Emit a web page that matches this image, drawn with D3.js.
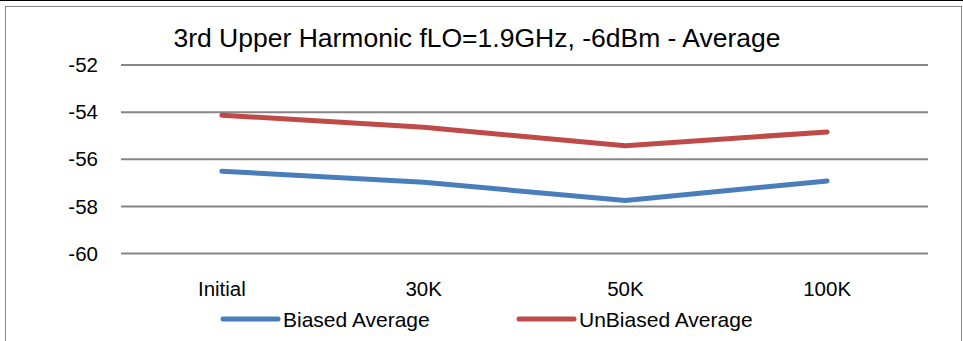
<!DOCTYPE html>
<html><head><meta charset="utf-8">
<script src="https://cdn.jsdelivr.net/npm/d3@7"></script>
<style>body{margin:0;background:#fff}svg{display:block}text{font-family:"Liberation Sans",Arial,sans-serif;fill:#000}</style>
</head><body><svg width="963" height="341"></svg>
<script>
const categories = ["Initial","30K","50K","100K"];
const biased = [-56.53,-57.0,-57.77,-56.94];
const unbiased = [-54.15,-54.66,-55.45,-54.86];
const yTicks = [-52,-54,-56,-58,-60];
const seriesNames = ["Biased Average","UnBiased Average"];
const colors = ["#4a7ebb","#be4b48"];
const title = "3rd Upper Harmonic fLO=1.9GHz, -6dBm - Average";

const svg = d3.select("svg");
svg.append("line").attr("x1",0).attr("x2",963).attr("y1",0.5).attr("y2",0.5).attr("stroke","#000").attr("stroke-width",1);
svg.append("rect").attr("x",5.5).attr("y",6.5).attr("width",956).attr("height",340).attr("fill","none").attr("stroke","#868686").attr("stroke-width",1);

const x = d3.scaleBand().domain(categories).range([121,928]);
const y = d3.scaleLinear().domain([-60,-52]).range([253,64.5]);

const gy = svg.append("g").attr("transform","translate(121,0)")
  .call(d3.axisLeft(y).tickValues(yTicks).tickSize(-807).tickPadding(23).tickFormat(d=>String(d)));
gy.select(".domain").remove();
gy.selectAll(".tick line").attr("stroke","#868686").attr("stroke-width",2);
gy.selectAll(".tick text").style("font-size","20.5px").attr("fill","#000").attr("dy","0.35em");

const gx = svg.append("g").attr("transform","translate(0,253)")
  .call(d3.axisBottom(x).tickSize(0).tickPadding(28));
gx.select(".domain").remove();
gx.selectAll(".tick text").style("font-size","20.5px").attr("fill","#000");

const line = d3.line().x((d,i)=>x(categories[i])+x.bandwidth()/2).y(d=>y(d));
[biased,unbiased].forEach((s,k)=>{
  svg.append("path").datum(s).attr("d",line).attr("fill","none").attr("stroke",colors[k]).attr("stroke-width",5).attr("stroke-linecap","round").attr("stroke-linejoin","round");
});

svg.append("text").attr("x",477).attr("y",47).attr("text-anchor","middle").style("font-size","26.5px").text(title);

const legX = [223,519];
seriesNames.forEach((n,k)=>{
  svg.append("line").attr("x1",legX[k]).attr("x2",legX[k]+55).attr("y1",319).attr("y2",319).attr("stroke",colors[k]).attr("stroke-width",5).attr("stroke-linecap","round");
  svg.append("text").attr("x",legX[k]+60).attr("y",327).style("font-size","21px").text(n);
});
</script></body></html>
